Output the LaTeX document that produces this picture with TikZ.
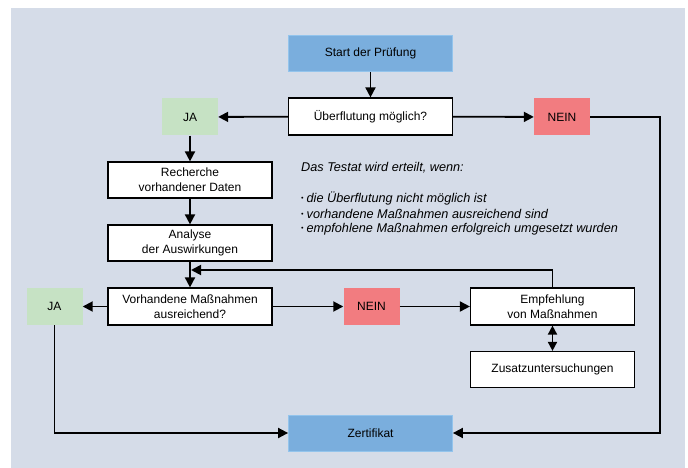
\documentclass[tikz,border=0pt]{standalone}
\usepackage{fontspec}
\setmainfont{Liberation Sans}
\usetikzlibrary{arrows.meta}
\definecolor{panel}{HTML}{D5DCE8}
\definecolor{bluefill}{HTML}{7AAEDD}
\definecolor{blueline}{HTML}{93C4EC}
\definecolor{greenfill}{HTML}{C6E2C4}
\definecolor{redfill}{HTML}{F27C80}
\tikzset{
  base/.style={inner sep=0pt, align=center, font=\fontsize{12}{15}\selectfont},
  wbox/.style={base, draw=black, line width=1.2pt, fill=white, minimum width=164pt, minimum height=37pt},
  bbox/.style={base, draw=blueline, line width=0.8pt, fill=bluefill, minimum width=164pt, minimum height=36pt},
  gbox/.style={base, fill=greenfill, minimum width=56pt, minimum height=37pt},
  rbox/.style={base, fill=redfill, minimum width=56pt, minimum height=37pt},
  arr/.style={line width=1.8pt, -{Triangle[length=10pt,width=10pt]}},
  darr/.style={line width=1.8pt, {Triangle[length=9pt,width=9pt]}-{Triangle[length=9pt,width=9pt]}},
  note/.style={anchor=west, inner sep=0pt, font=\fontsize{12.7}{15}\selectfont\itshape}
}
\newcommand{\mybul}{{\fontsize{7}{7}\selectfont\raisebox{0.6ex}{•}}\hspace{3pt}}
\begin{document}
\begin{tikzpicture}[x=1pt,y=-1pt]
\useasboundingbox (0,0) rectangle (688,468);
\fill[panel] (11,8) rectangle (685,468);

\node[bbox] (start) at (370.5,53.5) {Start der Prüfung};
\node[wbox] (ueb) at (370.5,116.5) {Überflutung möglich?};
\node[gbox] (ja1) at (190,117) {JA};
\node[rbox] (nein1) at (562,117) {NEIN};
\node[wbox, minimum height=36pt] (rech) at (190,180) {Recherche\\vorhandener Daten};
\node[wbox, minimum height=36pt] (anal) at (190,243) {Analyse\\der Auswirkungen};
\node[wbox] (vorh) at (190,306.5) {Vorhandene Maßnahmen\\ausreichend?};
\node[gbox] (ja2) at (54.5,306.5) {JA};
\node[rbox] (nein2) at (371.5,306.5) {NEIN};
\node[wbox] (empf) at (552.5,306.5) {Empfehlung\\von Maßnahmen};
\node[wbox, minimum height=36pt] (zus) at (552.5,369.5) {Zusatzuntersuchungen};
\node[bbox] (zert) at (370.5,433) {Zertifikat};

\node[note] (t0) at (301,168) {Das Testat wird erteilt, wenn:};
\node[note] (t1) at (301,199) {\mybul die Überflutung nicht möglich ist};
\node[note] (t2) at (301,214) {\mybul vorhandene Maßnahmen ausreichend sind};
\node[note] (t3) at (301,229) {\mybul empfohlene Maßnahmen erfolgreich umgesetzt wurden};

\coordinate (rc) at (660,433);
\coordinate (loop) at (191,270);

\draw[arr] (start) -- (ueb);
\draw[arr] (ueb) -- (ja1);
\draw[arr] (ueb) -- (nein1);
\draw[arr] (nein1.east) -| (rc) -- (zert.east);
\draw[arr] (ja1) -- (rech);
\draw[arr] (rech) -- (anal);
\draw[arr] (anal) -- (vorh);
\draw[arr] (empf.north) |- (loop);
\draw[arr] (vorh) -- (ja2);
\draw[arr] (vorh) -- (nein2);
\draw[arr] (nein2) -- (empf);
\draw[darr] (empf) -- (zus);
\draw[arr] (ja2.south) |- (zert.west);
\end{tikzpicture}
\end{document}
